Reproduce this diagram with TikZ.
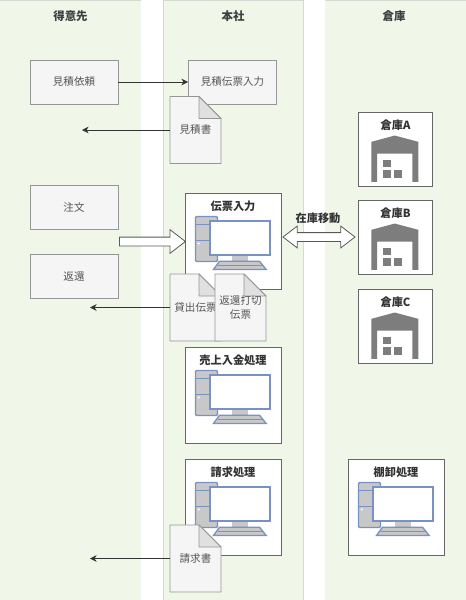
\documentclass[tikz,border=0pt]{standalone}
\usepackage{tikz}
\usepackage{xcolor}
\usepackage{fontspec}
\setmainfont{Noto Sans CJK JP}
\usetikzlibrary{shapes.arrows,arrows.meta}

\definecolor{lanegreen}{RGB}{240,247,232}
\definecolor{laneline}{RGB}{214,218,210}
\definecolor{pagegray}{RGB}{245,245,245}
\definecolor{linegray}{RGB}{150,150,150}
\definecolor{textgray}{RGB}{85,85,85}
\definecolor{pcblue}{RGB}{120,146,196}
\definecolor{pcgray}{RGB}{200,200,200}
\definecolor{housegray}{RGB}{125,125,125}

\tikzset{
    lane/.style={fill=lanegreen},
    laneedge/.style={draw=laneline, line width=0.6pt},
    lanetitle/.style={font=\fontsize{8.6}{10}\selectfont\bfseries, text=black!75},
    graybox/.style={draw=linegray, fill=pagegray, line width=0.7pt, font=\fontsize{7.9}{10}\selectfont,
        text=textgray, minimum width=66pt, minimum height=33pt, inner sep=0pt},
    pcbox/.style={draw=black!60, fill=white, line width=0.75pt, minimum width=72pt, minimum height=72pt, inner sep=0pt},
    housebox/.style={draw=black!60, fill=white, line width=0.7pt, minimum width=56pt, minimum height=55.5pt, inner sep=0pt},
    boxtitle/.style={font=\fontsize{8.4}{10}\selectfont\bfseries, text=black!80, inner sep=0pt},
    docpage/.style={draw=linegray, fill=pagegray, line width=0.7pt, line join=round},
    doctext/.style={font=\fontsize{7.9}{10.5}\selectfont, text=textgray, align=center, inner sep=0pt},
    sendline/.style={draw=black!80, line width=0.6pt, -{Stealth[length=5pt,width=5pt]}},
    fatarrow/.style={draw=black!65, fill=white, line width=0.6pt, inner xsep=0pt, inner ysep=3pt},
    computer/.pic={
        % tower
        \draw[draw=pcblue, fill=pcgray, line width=1.1pt, rounded corners=0.8pt] (11,24) rectangle (33,69);
        \draw[draw=pcblue, line width=1pt] (11,32.3) -- (33,32.3) (11,47.7) -- (33,47.7);
        \fill[white] (14.3,51) circle (1.1);
        % stand and keyboard
        \fill[pcgray] (47.7,62) rectangle (63,68.7);
        \draw[draw=pcblue, fill=pcgray, line width=1pt] (35,68.7) -- (75,68.7) -- (81.7,77) -- (29,77) -- cycle;
        \draw[draw=pcblue, line width=0.6pt] (33,72.8) -- (77.5,72.8);
        % monitor
        \draw[draw=pcblue, fill=white, line width=1.5pt] (25.7,28.7) rectangle (85,62);
    },
    warehouse/.pic={
        \fill[housegray] (13.7,30.3) -- (37,24) -- (60.7,30.3) -- (60.7,70.3) -- (54.7,70.3)
            -- (54.7,42) -- (19.3,42) -- (19.3,70.3) -- (13.7,70.3) -- cycle;
        \fill[housegray] (25.3,48) rectangle (33,55.7);
        \fill[housegray] (25.3,58.7) rectangle (33,66.3);
        \fill[housegray] (36.3,58.7) rectangle (44.3,66.3);
    }
}

\newcommand{\docnode}[3]{%
    \path[docpage, shift={(#2)}] (-25.5,-33.5) -- (3.5,-33.5) -- (25.5,-11.5) -- (25.5,33.5) -- (-25.5,33.5) -- cycle;
    \path[docpage, fill=black!12, shift={(#2)}] (3.5,-33.5) -- (25.5,-11.5) -- (3.5,-11.5) -- cycle;
    \node[doctext, minimum width=38.25pt, minimum height=50.25pt] (#1) at (#2) {#3};
}

\begin{document}
\begin{tikzpicture}[x=0.75pt, y=-0.75pt]
    \useasboundingbox (0,0) rectangle (466,600);

    % Lanes
    \fill[lane] (0,0) rectangle (141,600);
    \fill[lane] (163,0) rectangle (303,600);
    \fill[lane] (325,0) rectangle (466,600);
    \draw[laneedge] (0,0.3) -- (141,0.3) (325,0.3) -- (466,0.3);
    \draw[laneedge] (163,600) -- (163,0.3) -- (303,0.3) -- (303,600);
    \node[lanetitle] (customertitle) at (70.5,16) {得意先};
    \node[lanetitle] (headtitle) at (233,16) {本社};
    \node[lanetitle] (stocktitle) at (394,16) {倉庫};

    % Quotation
    \node[graybox] (request) at (74,82) {見積依頼};
    \node[graybox] (quoteinput) at (232.5,82) {見積伝票入力};
    \docnode{quotedoc}{195.5,130}{見積書}
    \coordinate (quoteend) at (82,130);
    \draw[sendline] (request) -- (quoteinput);
    \draw[sendline] (quotedoc.west) -- (quoteend);

    % Orders
    \node[graybox] (order) at (74,207.5) {注文};
    \node[graybox] (giveback) at (74,276.5) {返還};

    % Slip input
    \node[pcbox] (slipinput) at (233,241) {};
    \node[boxtitle] (sliptitle) at (233,206.5) {伝票入力};
    \pic at (slipinput.north west) {computer};
    \node[fatarrow, single arrow, anchor=tail, minimum width=17.25pt, minimum height=49.5pt,
        single arrow head extend=5.6pt, single arrow head indent=0pt, single arrow tip angle=75] (orderarrow) at (119,241.5) {};

    % Stock transfer
    \node[fatarrow, double arrow, minimum width=15.75pt, minimum height=54pt,
        double arrow head extend=4.9pt, double arrow head indent=0pt, double arrow tip angle=75] (movearrow) at (319,237) {};
    \node[boxtitle] (movetitle) at (318,218.5) {在庫移動};

    % Slips
    \docnode{lenddoc}{195.5,307.5}{貸出伝票}
    \docnode{returndoc}{240.5,307.5}{返還打切\\伝票}
    \coordinate (lendend) at (90,307.5);
    \draw[sendline] (lenddoc.west) -- (lendend);

    % Sales
    \node[pcbox] (sales) at (233,395) {};
    \node[boxtitle] (salestitle) at (233,360.5) {売上入金処理};
    \pic at (sales.north west) {computer};

    % Billing
    \node[pcbox] (billing) at (233,507) {};
    \node[boxtitle] (billingtitle) at (233,472.5) {請求処理};
    \pic at (billing.north west) {computer};
    \docnode{billdoc}{195.5,558.5}{請求書}
    \coordinate (billend) at (90,558.5);
    \draw[sendline] (billdoc.west) -- (billend);

    % Warehouses
    \node[housebox] (stocka) at (395.5,149) {};
    \node[boxtitle] (stockatitle) at (395.5,125) {倉庫A};
    \pic at (stocka.north west) {warehouse};
    \node[housebox] (stockb) at (395.5,237) {};
    \node[boxtitle] (stockbtitle) at (395.5,213) {倉庫B};
    \pic at (stockb.north west) {warehouse};
    \node[housebox] (stockc) at (395.5,326) {};
    \node[boxtitle] (stockctitle) at (395.5,302) {倉庫C};
    \pic at (stockc.north west) {warehouse};

    % Stocktaking
    \node[pcbox] (stocktake) at (396,507) {};
    \node[boxtitle] (stocktaketitle) at (396,472.5) {棚卸処理};
    \pic at (stocktake.north west) {computer};

\end{tikzpicture}
\end{document}
